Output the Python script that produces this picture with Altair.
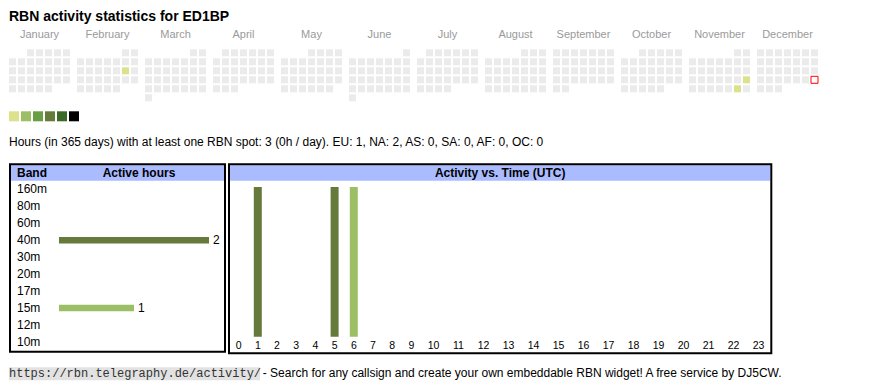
import datetime as dt
import altair as alt
import pandas as pd

# ---------------- data ----------------
YEAR = 2025
MONTHS = ["January", "February", "March", "April", "May", "June", "July",
          "August", "September", "October", "November", "December"]
ACTIVE_DATES = ["2025-02-15", "2025-11-23", "2025-11-29"]
ACTIVE_DATE_HOURS = [1, 1, 1]
TODAY = "2025-12-28"

LEVELS = [1, 2, 3, 4, 5, 6]
LEVEL_COLORS = ["#dbe28b", "#9cbf66", "#6a9e45", "#667a3b", "#3b6a28", "#000000"]
EMPTY_COLOR = "#ebebeb"

BANDS = ["160m", "80m", "60m", "40m", "30m", "20m", "17m", "15m", "12m", "10m"]
BAND_HOURS = [0, 0, 0, 2, 0, 0, 0, 1, 0, 0]
BAND_COLORS = ["#3b6a28", "#6a9e45", "#dbe28b", "#667a3b", "#4f7f35",
               "#80a85a", "#b0c870", "#9cbf66", "#c8d77e", "#d9e08a"]

HOURS = list(range(24))
ACTIVE_HOUR = [1, 5, 6]
ACTIVE_HOUR_BAND = ["40m", "40m", "15m"]
ACTIVE_HOUR_COUNT = [1, 1, 1]

TITLE = "RBN activity statistics for ED1BP"
STATS = ("Hours (in 365 days) with at least one RBN spot: 3 (0h / day). "
         "EU: 1, NA: 2, AS: 0, SA: 0, AF: 0, OC: 0")
URL = "https://rbn.telegraphy.de/activity/"
FOOTER = "- Search for any callsign and create your own embeddable RBN widget! A free service by DJ5CW."

SANS = "Liberation Sans"
MONO = "Liberation Mono"

# ---------------- calendar ----------------
W = 812
PITCH = 9.0                      # px per calendar cell step
MONTH_STRIDE = 7 + 5 / PITCH     # 7 day columns + month gap, in cell units

active = dict(zip(ACTIVE_DATES, ACTIVE_DATE_HOURS))
cal_rows = []
for m in range(12):
    first = dt.date(YEAR, m + 1, 1)
    off = first.weekday()
    d = first
    while d.month == m + 1:
        iso = d.isoformat()
        h = active.get(iso, 0)
        cal_rows.append({
            "date": iso,
            "col": m * MONTH_STRIDE + d.weekday(),
            "row": (off + d.day - 1) // 7,
            "level": min(h, 6),
            "today": iso == TODAY,
        })
        d += dt.timedelta(days=1)
cal = pd.DataFrame(cal_rows)
months = pd.DataFrame({"month": MONTHS,
                       "col": [m * MONTH_STRIDE + 3 for m in range(12)]})

CAL_H = 98
X0, Y0 = 3.5, 44.8
xcal = alt.Scale(domain=[-X0 / PITCH, (W - X0) / PITCH], nice=False, zero=False)
ycal = alt.Scale(domain=[-Y0 / PITCH, (CAL_H - Y0) / PITCH], nice=False, zero=False, reverse=True)

title = alt.Chart(pd.DataFrame({"t": [TITLE]})).mark_text(
    font=SANS, fontSize=14, fontWeight="bold", align="left", baseline="alphabetic", color="#000"
).encode(text="t:N", x=alt.value(0), y=alt.value(12.7))

month_lbl = alt.Chart(months).mark_text(
    font=SANS, fontSize=11, color="#9a9a9a", baseline="alphabetic"
).encode(x=alt.X("col:Q", scale=xcal, axis=None), y=alt.value(30.3), text="month:N")

cells = alt.Chart(cal).transform_filter("!datum.today").mark_square(
    size=49, opacity=1, filled=True, strokeWidth=0
).encode(
    x=alt.X("col:Q", scale=xcal, axis=None),
    y=alt.Y("row:Q", scale=ycal, axis=None),
    color=alt.Color("level:O", scale=alt.Scale(domain=[0] + LEVELS,
                                               range=[EMPTY_COLOR] + LEVEL_COLORS), legend=None),
)
today = alt.Chart(cal).transform_filter("datum.today").mark_square(
    size=49, filled=False, stroke="#ff0000", strokeWidth=1, opacity=1
).encode(x=alt.X("col:Q", scale=xcal, axis=None), y=alt.Y("row:Q", scale=ycal, axis=None))

cal_view = alt.layer(title, month_lbl, cells, today).properties(width=W, height=CAL_H)

# legend squares
leg = pd.DataFrame({"level": LEVELS, "i": list(range(len(LEVELS)))})
leg_view = alt.Chart(leg).mark_square(size=100, opacity=1, strokeWidth=0).encode(
    x=alt.X("i:Q", scale=alt.Scale(domain=[-5 / 12, (W - 5) / 12], nice=False, zero=False), axis=None),
    y=alt.value(10.3),
    color=alt.Color("level:O", scale=alt.Scale(domain=LEVELS, range=LEVEL_COLORS), legend=None),
).properties(width=W, height=20)

stats_view = alt.Chart(pd.DataFrame({"t": [STATS]})).mark_text(
    font=SANS, fontSize=12, align="left", baseline="alphabetic", color="#000"
).encode(text="t:N", x=alt.value(0), y=alt.value(20)).properties(width=W, height=37)

# ---------------- boxes (band table + activity vs time) ----------------
HEAD = "#aabbff"
BOX_H = 191
one = pd.DataFrame({"a": [0]})


def rect(x1, x2, y1, y2, **kw):
    return alt.Chart(one).mark_rect(**kw).encode(
        x=alt.value(x1), x2=alt.value(x2), y=alt.value(y1), y2=alt.value(y2))


def label(txt, x, y, align="left", bold=True, size=12):
    return alt.Chart(pd.DataFrame({"t": [txt]})).mark_text(
        font=SANS, fontSize=size, fontWeight="bold" if bold else "normal",
        align=align, baseline="alphabetic", color="#000"
    ).encode(text="t:N", x=alt.value(x), y=alt.value(y))


# box frames (stroke centres)
B1 = (1, 216, 1.3, 188.7)
B2 = (220, 762.3, 1.3, 190.3)

deco = [
    rect(B1[0] + 1, B1[1] - 1, B1[2] + 1, 17.7, color=HEAD),
    rect(B2[0] + 1, B2[1] - 1, B2[2] + 1, 17.7, color=HEAD),
    rect(*B1, filled=False, stroke="#000000", strokeWidth=2),
    rect(*B2, filled=False, stroke="#000000", strokeWidth=2),
    label("Band", 8, 14.3),
    label("Active hours", 130, 14.3, align="center"),
    label("Activity vs. Time (UTC)", (B2[0] + B2[1]) / 2, 14.3, align="center"),
]

bcol = alt.Scale(domain=BANDS, range=BAND_COLORS)
band_df = pd.DataFrame({"band": BANDS, "hours": BAND_HOURS})
yband = alt.Scale(type="point", domain=BANDS, range=[26.3, 179], padding=0)
xband = alt.Scale(domain=[0, max(BAND_HOURS)], range=[50, 200], nice=False, zero=True, padding=0)

b_lbl = alt.Chart(band_df).mark_text(
    font=SANS, fontSize=12, align="left", baseline="middle", color="#000"
).encode(text="band:N", x=alt.value(8), y=alt.Y("band:N", scale=yband, axis=None))
b_bar = alt.Chart(band_df).transform_filter("datum.hours > 0").mark_bar(size=6.5).encode(
    x=alt.X("hours:Q", scale=xband, axis=None),
    y=alt.Y("band:N", scale=yband, axis=None),
    color=alt.Color("band:N", scale=bcol, legend=None),
)
b_val = alt.Chart(band_df).transform_filter("datum.hours > 0").mark_text(
    font=SANS, fontSize=12, align="left", baseline="middle", dx=4, color="#000"
).encode(x=alt.X("hours:Q", scale=xband, axis=None),
         y=alt.Y("band:N", scale=yband, axis=None), text="hours:Q")
band_layer = alt.layer(b_lbl, b_bar, b_val)

# hour columns: width of each table cell follows its label length
PAD_CH = 2.31  # cell padding, in digit widths
labels = [str(h) for h in HOURS]
widths = [PAD_CH + len(s) for s in labels]
centers, acc = [], 0.0
for w in widths:
    centers.append(acc + w / 2)
    acc += w
pos = dict(zip(HOURS, centers))
xt = alt.Scale(domain=[0, acc], range=[B2[0], B2[0] + 542], nice=False, zero=False, padding=0)
yt = alt.Scale(domain=[0, max(ACTIVE_HOUR_COUNT)], range=[173.7, 24], nice=False, padding=0)

hour_df = pd.DataFrame({"hour": labels, "x": centers})
act_df = pd.DataFrame({"hour": ACTIVE_HOUR, "band": ACTIVE_HOUR_BAND, "count": ACTIVE_HOUR_COUNT,
                       "x": [pos[h] for h in ACTIVE_HOUR]})

t_bar = alt.Chart(act_df).mark_bar(size=8).encode(
    x=alt.X("x:Q", scale=xt, axis=None),
    y=alt.Y("count:Q", scale=yt, axis=None),
    color=alt.Color("band:N", scale=bcol, legend=None),
)
t_lbl = alt.Chart(hour_df).mark_text(
    font=SANS, fontSize=10.5, align="center", baseline="alphabetic", color="#000"
).encode(x=alt.X("x:Q", scale=xt, axis=None), y=alt.value(186.3), text="hour:N")
time_layer = alt.layer(t_bar, t_lbl)

boxes_view = alt.layer(*deco, band_layer, time_layer).resolve_scale(
    x="independent", y="independent").properties(width=W, height=BOX_H)

# ---------------- footer ----------------
f_bg = rect(0, 251, 13.3, 26.3, color="#e2e2e2")
f_url = alt.Chart(pd.DataFrame({"t": [URL]})).mark_text(
    font=MONO, fontSize=12, align="left", baseline="alphabetic", color="#333333"
).encode(text="t:N", x=alt.value(0), y=alt.value(23.3))
f_txt = alt.Chart(pd.DataFrame({"t": [FOOTER]})).mark_text(
    font=SANS, fontSize=12, align="left", baseline="alphabetic", color="#000"
).encode(text="t:N", x=alt.value(253.7), y=alt.value(23.3))
footer_view = alt.layer(f_bg, f_url, f_txt).properties(width=W, height=36)

chart = alt.VConcatChart(
    vconcat=[cal_view, leg_view, stats_view, boxes_view, footer_view],
    spacing=0, bounds="flush",
).resolve_scale(color="independent").properties(
    padding=0, background="white"
).configure_view(stroke="transparent", strokeWidth=0)

chart.save("out.html", embed_options={"renderer": "svg", "actions": False})
